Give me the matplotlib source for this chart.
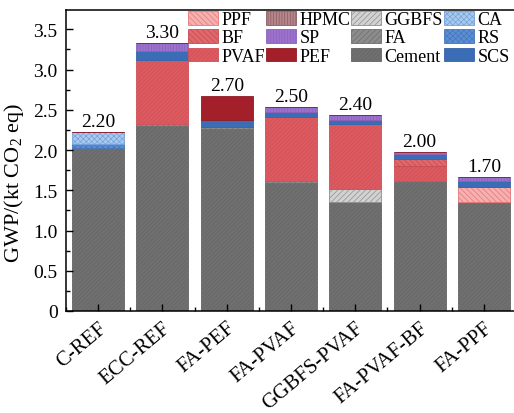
import matplotlib
matplotlib.use("Agg")
import matplotlib.pyplot as plt
import numpy as np
from matplotlib.ticker import MultipleLocator, FuncFormatter

plt.rcParams['font.family'] = ['Liberation Serif', 'DejaVu Serif']
plt.rcParams['hatch.linewidth'] = 0.5
plt.rcParams['mathtext.fontset'] = 'custom'
plt.rcParams['mathtext.rm'] = 'Liberation Serif'

categories = ["C-REF", "ECC-REF", "FA-PEF", "FA-PVAF", "GGBFS-PVAF", "FA-PVAF-BF", "FA-PPF"]
totals_text = ["2.20", "3.30", "2.70", "2.50", "2.40", "2.00", "1.70"]

cement = [2.02, 2.30, 2.26, 1.59, 1.35, 1.60, 1.34]
fa     = [0.00, 0.02, 0.03, 0.02, 0.00, 0.01, 0.01]
ggbfs  = [0.00, 0.00, 0.00, 0.00, 0.16, 0.00, 0.00]
pvaf   = [0.00, 0.80, 0.00, 0.80, 0.81, 0.19, 0.00]
bf     = [0.00, 0.00, 0.00, 0.00, 0.00, 0.09, 0.00]
ppf    = [0.00, 0.00, 0.00, 0.00, 0.00, 0.00, 0.19]
rs     = [0.06, 0.00, 0.00, 0.00, 0.00, 0.00, 0.00]
ca     = [0.14, 0.00, 0.00, 0.00, 0.00, 0.00, 0.00]
scs    = [0.00, 0.11, 0.08, 0.06, 0.05, 0.06, 0.07]
hpmc   = [0.00, 0.00, 0.00, 0.00, 0.00, 0.00, 0.00]
sp     = [0.00, 0.10, 0.00, 0.06, 0.07, 0.02, 0.05]
pef    = [0.00, 0.00, 0.30, 0.00, 0.00, 0.00, 0.00]

# name: (values, facecolor, hatchcolor, hatch)
layers = [
    ("Cement", cement, "#707070", "#666666", "////////"),
    ("FA",     fa,     "#8c8c8c", "#6e6e6e", "//////"),
    ("GGBFS",  ggbfs,  "#d2d2d2", "#909090", "//////"),
    ("PVAF",   pvaf,   "#dc5a60", "#cf5157", "////////"),
    ("BF",     bf,     "#e0686c", "#c24c52", "\\\\\\\\\\\\"),
    ("PPF",    ppf,    "#f6b0b0", "#e47878", "\\\\\\\\\\\\"),
    ("RS",     rs,     "#5b8fd2", "#4476bd", "xxxxxx"),
    ("CA",     ca,     "#a8caee", "#74a2d8", "xxxxxx"),
    ("SCS",    scs,    "#3a6db5", "#3563a6", ""),
    ("HPMC",   hpmc,   "#b5868c", "#8e5c64", "||||||"),
    ("SP",     sp,     "#9c72cc", "#8a62bc", "||||||"),
    ("PEF",    pef,    "#a3202a", "#8e1b23", ""),
]

fig = plt.figure(figsize=(5.14, 4.14), dpi=100)
ax = fig.add_axes([66/514, 102/414, 450/514, 301/414])

x = np.arange(len(categories))
bottom = np.zeros(len(categories))
handles = {}
for name, vals, fc, hc, hatch in layers:
    v = np.array(vals)
    b = ax.bar(x, v, width=0.81, bottom=bottom, color=fc, edgecolor=hc,
               hatch=hatch, linewidth=0.6, label=name)
    handles[name] = b
    bottom += v

for xi, top, t in zip(x, bottom, totals_text):
    ax.annotate(t, (xi, top), xytext=(0, 1.5), textcoords="offset points",
                ha="center", va="bottom", fontsize=14)

ax.set_xlim(-0.5, 6.5)
ax.set_ylim(0, 3.74)
ax.yaxis.set_major_locator(MultipleLocator(0.5))
ax.yaxis.set_minor_locator(MultipleLocator(0.25))
ax.yaxis.set_major_formatter(FuncFormatter(lambda v, p: "0" if abs(v) < 1e-9 else f"{v:.1f}"))
ax.set_xticks(x)
ax.set_xticklabels(categories, rotation=40, ha="right", rotation_mode="anchor", fontsize=15)
ax.set_xticks(np.arange(-0.5, 7, 1), minor=True)
ax.tick_params(axis="both", which="major", direction="in", length=5, width=1)
ax.tick_params(axis="y", which="major", labelsize=14, pad=6)
ax.tick_params(axis="both", which="minor", direction="in", length=3, width=1)
ax.tick_params(axis="x", which="major", pad=5)
ax.set_ylabel("GWP/(kt CO$_2$ eq)", fontsize=16)
ax.yaxis.set_label_coords(-0.088, 0.43)
for s in ax.spines.values():
    s.set_linewidth(1.1)

order = ["PPF", "BF", "PVAF", "HPMC", "SP", "PEF", "GGBFS", "FA", "Cement", "CA", "RS", "SCS"]
leg = fig.legend([handles[n] for n in order], order, ncol=4, loc="upper left",
                 bbox_to_anchor=(188/514, 1 - 12/414), bbox_transform=fig.transFigure,
                 frameon=False, fontsize=13, borderpad=0, borderaxespad=0,
                 handlelength=1.65, handleheight=0.8, handletextpad=0.2,
                 columnspacing=0.05, labelspacing=0.06)

fig.savefig("out.png", dpi=100)
